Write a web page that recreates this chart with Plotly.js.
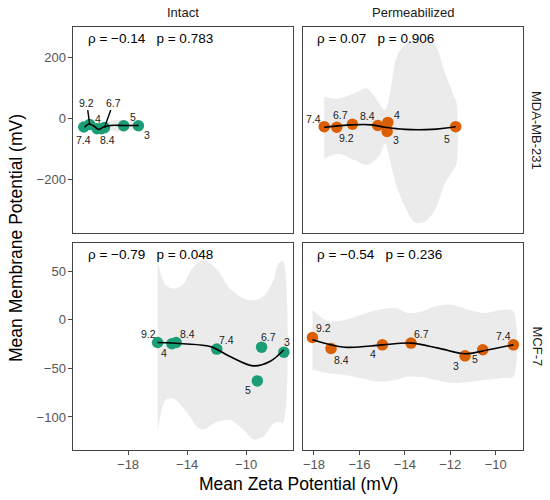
<!DOCTYPE html>
<html><head><meta charset="utf-8">
<script src="https://cdn.plot.ly/plotly-3.0.1.min.js"></script>
<style>html,body{margin:0;padding:0;background:#fff}#chart{width:550px;height:500px}</style>
</head><body><div id="chart"></div>
<script>
// ---------- DATA ----------
const columns = ['Intact', 'Permeabilized'];
const rows = ['MDA-MB-231', 'MCF-7'];
const xTicksIntact = [-18, -14, -10];
const xTicksPerm = [-18, -16, -14, -12, -10];
const yTicksMDA = [-200, 0, 200];
const yTicksMCF = [-100, -50, 0, 50];

// MDA-MB-231 / Intact
const mdaIntLabels = ['7.4', '9.2', '4', '8.4', '6.7', '5', '3'];
const mdaIntZeta = [-21.0, -20.6, -20.1, -19.8, -19.6, -18.3, -17.3];
const mdaIntVm = [-28, -20, -34, -34, -30, -24, -24];
const mdaIntFitX = [-20.95, -20.66, -20.32, -19.99, -19.69, -19.2, -18.3, -17.28];
const mdaIntFitY = [-29, -18, -25, -36, -29, -23, -23, -23];
const mdaIntBandX = [-20.95, -20.6, -20.2, -19.7, -19.2, -18.5, -17.8, -17.28];
const mdaIntBandHi = [-16, -8, -16, -20, -8, -4, -10, -14];
const mdaIntBandLo = [-40, -30, -34, -40, -40, -44, -36, -32];
const mdaIntStat = 'ρ = −0.14\u00a0\u00a0\u00a0p = 0.783';

// MDA-MB-231 / Permeabilized
const mdaPermLabels = ['7.4', '6.7', '9.2', '8.4', '4', '3', '5'];
const mdaPermZeta = [-17.55, -17.0, -16.31, -15.19, -14.75, -14.78, -11.76];
const mdaPermVm = [-27, -29, -19, -23, -13, -43, -27];
const mdaPermFitX = [-17.55, -16.34, -15.46, -14.87, -13.99, -12.81, -11.76];
const mdaPermFitY = [-29, -21, -21, -29, -36, -36, -27];
const mdaPermBandX = [-17.55, -16.93, -16.19, -15.68, -15.39, -15.09, -14.87, -14.65, -14.36, -13.99, -13.55, -13.11, -12.67, -12.23, -11.86, -11.72];
const mdaPermBandHi = [72, 66, 84, 100, 78, 44, 28, 84, 204, 243, 260, 258, 243, 150, 78, 50];
const mdaPermBandLo = [-132, -116, -138, -154, -142, -120, -82, -138, -226, -292, -344, -340, -302, -214, -170, -148];
const mdaPermStat = 'ρ = 0.07\u00a0\u00a0\u00a0p = 0.906';

// MCF-7 / Intact
const mcfIntLabels = ['9.2', '4', '8.4', '7.4', '6.7', '5', '3'];
const mcfIntZeta = [-16.0, -15.03, -14.74, -11.99, -8.95, -9.24, -7.44];
const mcfIntVm = [-23.4, -24.7, -23.4, -30.2, -28.2, -62.9, -33.3];
const mcfIntFitX = [-16.0, -14.24, -12.44, -11.09, -9.51, -8.39, -7.44];
const mcfIntFitY = [-23.4, -24.7, -27.5, -37.8, -47.4, -43, -30.9];
const mcfIntBandX = [-16.0, -15.48, -14.92, -14.24, -13.79, -13.34, -12.89, -11.99, -11.09, -10.19, -9.51, -8.84, -8.16, -7.82, -7.49];
const mcfIntBandHi = [60, 36, 32, 37, 50, 58, 62, 52, 32, 22, 20, 24, 40, 58, 60];
const mcfIntBandLo = [-115, -83, -81, -91, -100, -110, -113, -105, -103, -113, -123, -120, -107, -105, -106];
const mcfIntStat = 'ρ = −0.79\u00a0\u00a0\u00a0p = 0.048';

// MCF-7 / Permeabilized
const mcfPermLabels = ['9.2', '8.4', '4', '6.7', '3', '5', '7.4'];
const mcfPermZeta = [-18.07, -17.25, -14.99, -13.73, -11.35, -10.57, -9.22];
const mcfPermVm = [-18.2, -29.6, -25.8, -24.0, -37.1, -30.9, -25.8];
const mcfPermFitX = [-18.07, -16.63, -14.99, -13.73, -12.52, -11.35, -10.32, -9.22];
const mcfPermFitY = [-20.5, -28.2, -25.8, -24.0, -29.2, -35.0, -30.9, -25.8];
const mcfPermBandX = [-18.07, -17.37, -16.63, -15.9, -15.17, -14.43, -13.85, -13.26, -12.67, -11.93, -11.2, -10.47, -9.73, -9.22];
const mcfPermBandHi = [10.3, -1.7, 0, 5.2, 10.3, 12, 6.9, 8.6, 13.7, 15.5, 10.3, 6.9, 10.3, 8.6];
const mcfPermBandLo = [-51.5, -55, -56.7, -60.1, -63.6, -61.9, -58.4, -59, -62, -65, -64, -62, -60, -58.4];
const mcfPermStat = 'ρ = −0.54\u00a0\u00a0\u00a0p = 0.236';

// ---------- STYLE / LAYOUT ----------
const GREEN = '#1b9e77', ORANGE = '#d95f02', BAND = '#ebebeb';
const FONT = 'Liberation Sans, Arial, sans-serif';

// label offsets in pixels [dx, dy (down positive), segment?]
const offMdaInt = [[0, 13, 0], [-3, -22, 1], [1, -10, 0], [6, 11, 0], [9, -25, 1], [9, -9, 0], [9, 9, 0]];
const offMdaPerm = [[-11, -8, 0], [4, -12, 0], [-6, 14, 0], [-10, -9, 0], [9, -7, 0], [9, 8, 0], [-9, 12, 0]];
const offMcfInt = [[-9, -9, 0], [-8, 9, 0], [11, -9, 0], [10, -9, 0], [7, -10, 0], [-9, 9, 0], [3, -10, 0]];
const offMcfPerm = [[11, -9, 0], [10, 11, 0], [-9, 9, 0], [11, -9, 0], [-9, 10, 0], [-8, 9, 0], [-10, -9, 0]];

const panels = [
  {xa: 'x3', ya: 'y3', color: GREEN, labels: mdaIntLabels, zx: mdaIntZeta, vm: mdaIntVm, fx: mdaIntFitX, fy: mdaIntFitY, bx: mdaIntBandX, hi: mdaIntBandHi, lo: mdaIntBandLo, stat: mdaIntStat, off: offMdaInt},
  {xa: 'x4', ya: 'y4', color: ORANGE, labels: mdaPermLabels, zx: mdaPermZeta, vm: mdaPermVm, fx: mdaPermFitX, fy: mdaPermFitY, bx: mdaPermBandX, hi: mdaPermBandHi, lo: mdaPermBandLo, stat: mdaPermStat, off: offMdaPerm},
  {xa: 'x', ya: 'y', color: GREEN, labels: mcfIntLabels, zx: mcfIntZeta, vm: mcfIntVm, fx: mcfIntFitX, fy: mcfIntFitY, bx: mcfIntBandX, hi: mcfIntBandHi, lo: mcfIntBandLo, stat: mcfIntStat, off: offMcfInt},
  {xa: 'x2', ya: 'y2', color: ORANGE, labels: mcfPermLabels, zx: mcfPermZeta, vm: mcfPermVm, fx: mcfPermFitX, fy: mcfPermFitY, bx: mcfPermBandX, hi: mcfPermBandHi, lo: mcfPermBandLo, stat: mcfPermStat, off: offMcfPerm}
];

const traces = [];
const annotations = [];
panels.forEach(p => {
  traces.push({
    x: p.bx.concat(p.bx.slice().reverse()),
    y: p.hi.concat(p.lo.slice().reverse()),
    xaxis: p.xa, yaxis: p.ya, type: 'scatter', mode: 'lines',
    fill: 'toself', fillcolor: BAND, line: {width: 0, color: BAND, shape: 'spline', smoothing: 0.8},
    hoverinfo: 'skip', showlegend: false
  });
});
panels.forEach(p => {
  traces.push({
    x: p.zx, y: p.vm, xaxis: p.xa, yaxis: p.ya, type: 'scatter', mode: 'markers',
    marker: {color: p.color, size: 11.5}, showlegend: false
  });
});
panels.forEach(p => {
  traces.push({
    x: p.fx, y: p.fy, xaxis: p.xa, yaxis: p.ya, type: 'scatter', mode: 'lines',
    line: {color: '#000', width: 1.6, shape: 'spline', smoothing: 1}, showlegend: false
  });
  p.labels.forEach((lab, i) => {
    const o = p.off[i];
    if (o[2]) {
      annotations.push({x: p.zx[i], y: p.vm[i], xref: p.xa, yref: p.ya, text: lab,
        showarrow: true, arrowhead: 0, arrowwidth: 1.4, arrowcolor: '#000', standoff: 0,
        ax: o[0], ay: o[1], font: {family: FONT, size: 10.5, color: '#222'}});
    } else {
      annotations.push({x: p.zx[i], y: p.vm[i], xref: p.xa, yref: p.ya, text: lab,
        showarrow: false, xanchor: 'center', yanchor: 'middle', xshift: o[0], yshift: -o[1],
        font: {family: FONT, size: 10.5, color: '#222'}});
    }
  });
  annotations.push({x: 0.055, y: 0.945, xref: p.xa + ' domain', yref: p.ya + ' domain',
    xanchor: 'left', yanchor: 'middle', text: p.stat, showarrow: false,
    font: {family: FONT, size: 13.5, color: '#000'}});
});

const C = {xanchor: 'center', yanchor: 'middle', showarrow: false, xref: 'paper', yref: 'paper'};
// strip texts
annotations.push(Object.assign({}, C, {x: (0.1336 + 0.5333) / 2, y: 1 - 12 / 500, text: columns[0], font: {family: FONT, size: 13, color: '#1a1a1a'}}));
annotations.push(Object.assign({}, C, {x: (0.5515 + 0.9504) / 2, y: 1 - 12 / 500, text: columns[1], font: {family: FONT, size: 13, color: '#1a1a1a'}}));
annotations.push(Object.assign({}, C, {x: 537 / 550, y: (0.534 + 0.946) / 2, text: rows[0], textangle: 90, font: {family: FONT, size: 13, color: '#1a1a1a'}}));
annotations.push(Object.assign({}, C, {x: 537 / 550, y: (0.1 + 0.514) / 2, text: rows[1], textangle: 90, font: {family: FONT, size: 13, color: '#1a1a1a'}}));
// axis titles
annotations.push(Object.assign({}, C, {x: 298 / 550, y: 1 - 484 / 500, text: 'Mean Zeta Potential (mV)', font: {family: FONT, size: 17.5, color: '#000'}}));
annotations.push(Object.assign({}, C, {x: 16 / 550, y: 1 - 238 / 500, text: 'Mean Membrane Potential (mV)', textangle: -90, font: {family: FONT, size: 17.5, color: '#000'}}));

const axBase = {showgrid: false, zeroline: false, showline: true, mirror: true, linecolor: '#444', linewidth: 1,
  ticks: 'outside', ticklen: 4, tickcolor: '#444', tickwidth: 1,
  tickfont: {family: FONT, size: 13, color: '#555'}};
const noTicks = {showticklabels: false, ticks: ''};
const colL = [0.1336, 0.5333], colR = [0.5515, 0.9504];
const rowT = [0.534, 0.946], rowB = [0.1, 0.514];
const rangeXL = [-21.7, -6.8], rangeXR = [-18.47, -8.81];
const rangeYT = [-378, 302], rangeYB = [-134, 79];

const layout = {
  width: 550, height: 500, margin: {l: 0, r: 0, t: 0, b: 0},
  paper_bgcolor: '#fff', plot_bgcolor: '#fff', showlegend: false,
  xaxis: Object.assign({}, axBase, {domain: colL, anchor: 'y', range: rangeXL, tickvals: xTicksIntact, ticklabelstandoff: -2}),
  yaxis: Object.assign({}, axBase, {domain: rowB, anchor: 'x', range: rangeYB, tickvals: yTicksMCF}),
  xaxis2: Object.assign({}, axBase, {domain: colR, anchor: 'y2', range: rangeXR, tickvals: xTicksPerm, ticklabelstandoff: -2}),
  yaxis2: Object.assign({}, axBase, noTicks, {domain: rowB, anchor: 'x2', range: rangeYB}),
  xaxis3: Object.assign({}, axBase, noTicks, {domain: colL, anchor: 'y3', range: rangeXL}),
  yaxis3: Object.assign({}, axBase, {domain: rowT, anchor: 'x3', range: rangeYT, tickvals: yTicksMDA}),
  xaxis4: Object.assign({}, axBase, noTicks, {domain: colR, anchor: 'y4', range: rangeXR}),
  yaxis4: Object.assign({}, axBase, noTicks, {domain: rowT, anchor: 'x4', range: rangeYT}),
  annotations: annotations
};

Plotly.newPlot('chart', traces, layout, {displayModeBar: false, staticPlot: true});
</script></body></html>
